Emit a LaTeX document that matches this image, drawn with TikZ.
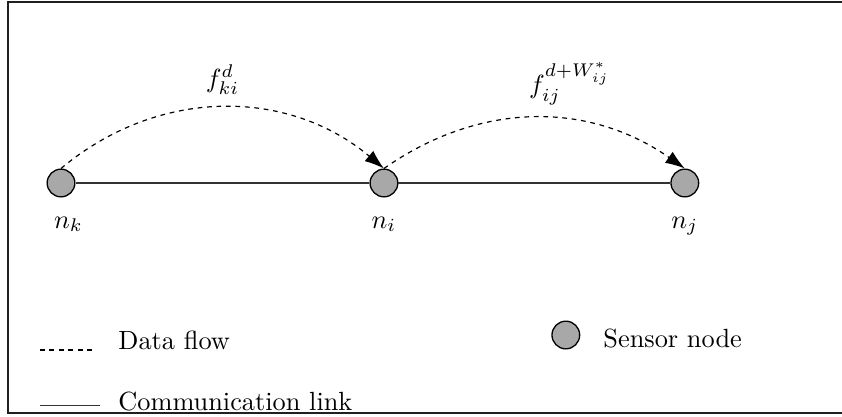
\documentclass[tikz,border=0pt]{standalone}
\usepackage{tikz}
\usetikzlibrary{arrows.meta, positioning}
\definecolor{framedark}{RGB}{35,31,32}
\definecolor{nodegray}{RGB}{168,168,168}
\definecolor{linkdark}{RGB}{50,50,50}
\tikzset{
  sensor/.style={circle, draw=black, fill=nodegray, minimum size=0.37cm,
    inner sep=0pt, line width=0.5pt},
  lbl/.style={label distance=1.6pt, text height=1.5ex, text depth=0.25ex},
  link/.style={line width=0.5pt, color=linkdark},
  flowline/.style={dash pattern=on 1.8pt off 1.8pt, line width=0.45pt},
  flow/.style={flowline, -{Latex[length=2.6mm, width=1.8mm]}},
  legtext/.style={anchor=base west, inner sep=0pt}
}

\begin{document}
\begin{tikzpicture}
  \useasboundingbox (0,0) rectangle (11.25,5.56);
  % Frame, open on the right
  \draw[line width=1pt, color=framedark] (11.25,5.533) -| (0.107,0.040) -- (11.25,0.040);

  % Sensor nodes
  \node[sensor, label={[lbl, xshift=0.1cm]below:$n_k$}] (nk) at (0.815,3.115) {};
  \node[sensor, label={[lbl]below:$n_i$}] (ni) at (5.13,3.115) {};
  \node[sensor, label={[lbl]below:$n_j$}] (nj) at (9.15,3.115) {};

  % Communication links
  \draw[link] (nk) -- (ni);
  \draw[link] (ni) -- (nj);

  % Data flows
  \draw[flow] (nk.north) to[bend left=40] node[above, yshift=1.5pt] (fki) {$f_{ki}^{d}$} (ni.north);
  \draw[flow] (ni.north) to[bend left=35] node[above, xshift=0.47cm, yshift=1.5pt] (fij) {$f_{ij}^{d+W_{ij}^{*}}$} (nj.north);

  % Legend
  \coordinate (dfa) at (0.534,0.884);
  \coordinate (dfb) at (1.27,0.884);
  \draw[flowline] (dfa) -- (dfb);
  \node[legtext] (dftext) at (1.576,0.884) {Data flow};

  \coordinate (cla) at (0.534,0.140);
  \coordinate (clb) at (1.336,0.140);
  \draw[link] (cla) -- (clb);
  \node[legtext] (cltext) at (1.576,0.082) {Communication link};

  \node[sensor] (legsensor) at (7.56,1.084) {};
  \node[legtext] (sntext) at (8.056,0.911) {Sensor node};
\end{tikzpicture}
\end{document}
